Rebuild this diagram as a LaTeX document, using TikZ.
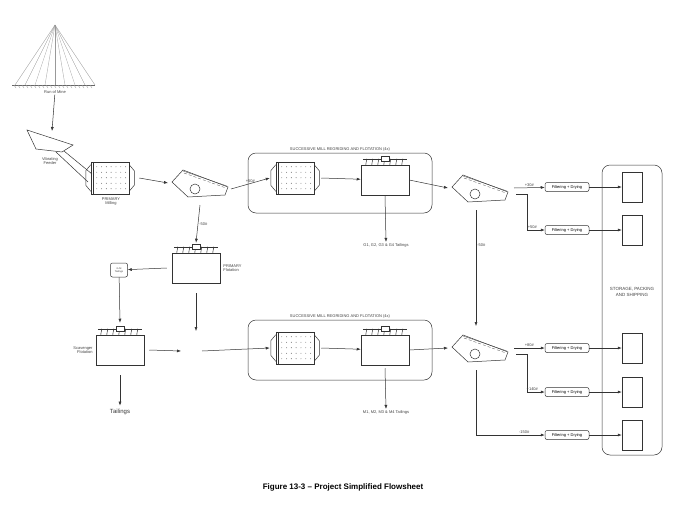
\documentclass[tikz,border=0pt]{standalone}
\usepackage{fontspec}
\setmainfont{Liberation Sans}
\usetikzlibrary{positioning,arrows.meta}
\tikzset{
  eq/.style={draw=black!80, line width=0.5pt},
  flow/.style={draw=black!80, line width=0.5pt, -{Latex[length=4pt,width=3pt]}},
  lbl/.style={font=\fontsize{4}{4.5}\selectfont, text=black!75, inner sep=1pt, align=center},
  millbox/.style={eq, minimum width=36pt, minimum height=32pt, inner sep=0pt},
  cellbox/.style={eq, minimum width=48pt, minimum height=30pt, inner sep=0pt},
  filterbox/.style={eq, rounded corners=2pt, minimum width=44pt, minimum height=9pt, inner sep=0pt, font=\fontsize{4}{4.5}\selectfont},
  binbox/.style={eq, minimum width=20pt, minimum height=30pt},
  groupbox/.style={eq, rounded corners=8pt}
}
% broyeur : points et couvercles
\newcommand{\milldots}[1]{%
  \foreach \i in {0,...,6} \foreach \j in {0,...,4}
    \fill[black!70] ([xshift=4pt+\i*4.8pt, yshift=-5pt-\j*5.5pt]#1.north west) circle (0.45pt);
  \draw[eq] ([xshift=-2pt]#1.north west) rectangle ([xshift=0pt]#1.south west);
  \draw[eq] ([xshift=-2pt,yshift=-3pt]#1.north west) -- ([xshift=-7pt,yshift=-9pt]#1.north west)
     -- ([xshift=-7pt,yshift=9pt]#1.south west) -- ([xshift=-2pt,yshift=3pt]#1.south west);
  \draw[eq] ([yshift=-3pt]#1.north east) -- ([xshift=5pt,yshift=-9pt]#1.north east)
     -- ([xshift=5pt,yshift=9pt]#1.south east) -- ([yshift=3pt]#1.south east);}
% cellule de flottation : agitateurs
\newcommand{\celltop}[1]{%
  \draw[eq] ([xshift=2pt,yshift=6pt]#1.north west) -- ([xshift=-2pt,yshift=6pt]#1.north east);
  \foreach \i in {1,...,7}
    \draw[eq] ([xshift=\i*6pt,yshift=6pt]#1.north west) -- ([xshift=\i*6pt-1pt]#1.north west);
  \draw[eq, fill=white] ([xshift=-4pt,yshift=4pt]#1.north) rectangle ([xshift=4pt,yshift=9pt]#1.north);
  \draw[black!80, line width=1.2pt] (#1.south west) -- (#1.south east);}
% crible
\newcommand{\screen}[1]{%
  \draw[eq] ([shift={(-28pt,1pt)}]#1) -- ([shift={(-17pt,13pt)}]#1) -- ([shift={(28pt,-4pt)}]#1)
    -- ([shift={(25pt,-12pt)}]#1) -- ([shift={(-12pt,-14pt)}]#1) -- cycle;
  \draw[black!70, densely dashed, line width=0.3pt] ([shift={(-16pt,10pt)}]#1) -- ([shift={(26pt,-5pt)}]#1);
  \draw[black!70, line width=0.3pt] ([shift={(-17pt,12pt)}]#1) -- ([shift={(27pt,-3pt)}]#1);
  \draw[eq] ([shift={(-5pt,-6pt)}]#1) circle (5pt);}
\begin{document}
\begin{tikzpicture}[x=1pt, y=-1pt]
\useasboundingbox (0,0) rectangle (686,509);

% tas de minerai
\foreach \x in {15,25,...,95} \draw[black!40, line width=0.3pt] (55,25) -- (\x,85);
\draw[black!60] (12,85) -- (95,85);
\foreach \x in {14,18,...,92} \draw[black!40, line width=0.3pt] (\x,85) -- (\x+2,88);
\node[lbl] (rom) at (55,92) {Run of Mine};

% alimentateur vibrant
\draw[eq] (27,130) -- (73,145) -- (62,152) -- (36,149) -- cycle;
\draw[eq] (56,152) -- (88,182) (64,151) -- (92,174);
\coordinate (hop) at (52,131);
\node[lbl] (feedlbl) at (50,161) {Vibrating\\Feeder};
\draw[flow] (rom) -- (hop);

% broyeur primaire
\node[millbox] (pmill) at (111,178) {};
\milldots{pmill}
\node[lbl, below=2pt of pmill] (pmilllbl) {PRIMARY\\Milling};

% crible primaire
\coordinate (scr1) at (200,183);
\screen{scr1}
\draw[flow] ([xshift=10pt]pmill.east) -- ([xshift=-32pt]scr1);

% boucle haute
\node[groupbox, minimum width=184pt, minimum height=60pt] (grpA) at (340,183) {};
\node[lbl, above=0pt of grpA] {SUCCESSIVE MILL REGRIDING AND FLOTATION (4x)};
\node[millbox] (millA) at (296,178) {};
\milldots{millA}
\node[cellbox] (cellA) at (385,180) {};
\celltop{cellA}
\draw[flow] ([xshift=31pt,yshift=-6pt]scr1) -- node[lbl, above] {+50\#} ([xshift=-8pt]millA.west);
\draw[flow] ([xshift=7pt]millA.east) -- (cellA);
\node[lbl] (tailA) at (386,245) {G1, G2, G3 \& G4 Tailings};
\draw[flow] (cellA.south) -- (tailA.north);

% crible haut
\coordinate (scr2) at (480,188);
\screen{scr2}
\draw[flow] (cellA.east) -- ([xshift=-32pt]scr2);

% flottation primaire
\node[cellbox] (pflot) at (196,268) {};
\celltop{pflot}
\node[lbl, right=2pt of pflot, align=left] {PRIMARY\\Flotation};
\draw[flow] ([yshift=-22pt]scr1) -- node[lbl, right] {-50\#} ([yshift=10pt]pflot.north);

\node[eq, rounded corners=2pt, minimum width=17pt, minimum height=14pt, lbl, font=\fontsize{2.5}{3}\selectfont] (gm) at (119,270) {G-M\\Tailings};
\draw[flow] ([xshift=-5pt]pflot.west) -- (gm);

% flottation de recuperation
\node[cellbox] (scav) at (120,350) {};
\celltop{scav}
\node[lbl, left=2pt of scav, align=right] {Scavenger\\Flotation};
\draw[flow] (gm) -- ([yshift=12pt]scav.north);
\node[font=\fontsize{6}{7}\selectfont, text=black!80] (tail) at (120,412) {Tailings};
\draw[flow] ([yshift=-10pt]scav.south) -- (tail);

\coordinate (mix) at (196,351);
\draw[flow] ([xshift=5pt]scav.east) -- ([xshift=-15pt]mix);
\draw[flow] ([yshift=-10pt]pflot.south) -- ([yshift=20pt]mix);

% boucle basse
\node[groupbox, minimum width=184pt, minimum height=60pt] (grpB) at (340,350) {};
\node[lbl, above=0pt of grpB] {SUCCESSIVE MILL REGRIDING AND FLOTATION (4x)};
\node[millbox] (millB) at (296,348) {};
\milldots{millB}
\node[cellbox] (cellB) at (385,350) {};
\celltop{cellB}
\draw[flow] ([xshift=6pt]mix) -- ([xshift=-8pt]millB.west);
\draw[flow] ([xshift=7pt]millB.east) -- (cellB);
\node[lbl] (tailB) at (386,412) {M1, M2, M3 \& M4 Tailings};
\draw[flow] ([yshift=-3pt]cellB.south) -- (tailB.north);

% crible bas
\coordinate (scr3) at (480,348);
\screen{scr3}
\draw[flow] (cellB.east) -- ([xshift=-32pt]scr3);
\draw[flow] ([shift={(-4pt,-22pt)}]scr2) -- node[lbl, right, pos=0.3] {-50\#} ([shift={(-4pt,22pt)}]scr3);

% stockage
\node[groupbox, minimum width=60pt, minimum height=290pt] (store) at (632,310) {};
\node[lbl, font=\fontsize{4.5}{5.5}\selectfont] at (632,292) {STORAGE, PACKING\\AND SHIPPING};
\foreach \n/\y in {1/187,2/230,3/348,4/392,5/435} {
  \node[filterbox] (filt\n) at (567,\y) {Filtering + Drying};
  \node[binbox] (bin\n) at (632,\y) {};
  \draw[flow] (filt\n) -- (bin\n);
}

% sorties des cribles
\draw[flow] ([shift={(34pt,0pt)}]scr2) -- node[lbl, above] {+30\#} (filt1);
\draw[flow] ([shift={(36pt,-6pt)}]scr2) -| (527,230) -- node[lbl, above, pos=0.3] {+50\#} (filt2);
\draw[flow] ([shift={(34pt,0pt)}]scr3) -- node[lbl, above] {+80\#} (filt3);
\draw[flow] ([shift={(36pt,-6pt)}]scr3) -| (527,392) -- node[lbl, above, pos=0.3] {+140\#} (filt4);
\draw[flow] ([shift={(-4pt,-22pt)}]scr3) |- node[lbl, above, pos=0.85] {-150\#} (filt5);

\node[font=\bfseries\fontsize{8}{9}\selectfont] (caption) at (343,487) {Figure 13-3 – Project Simplified Flowsheet};
\end{tikzpicture}
\end{document}
